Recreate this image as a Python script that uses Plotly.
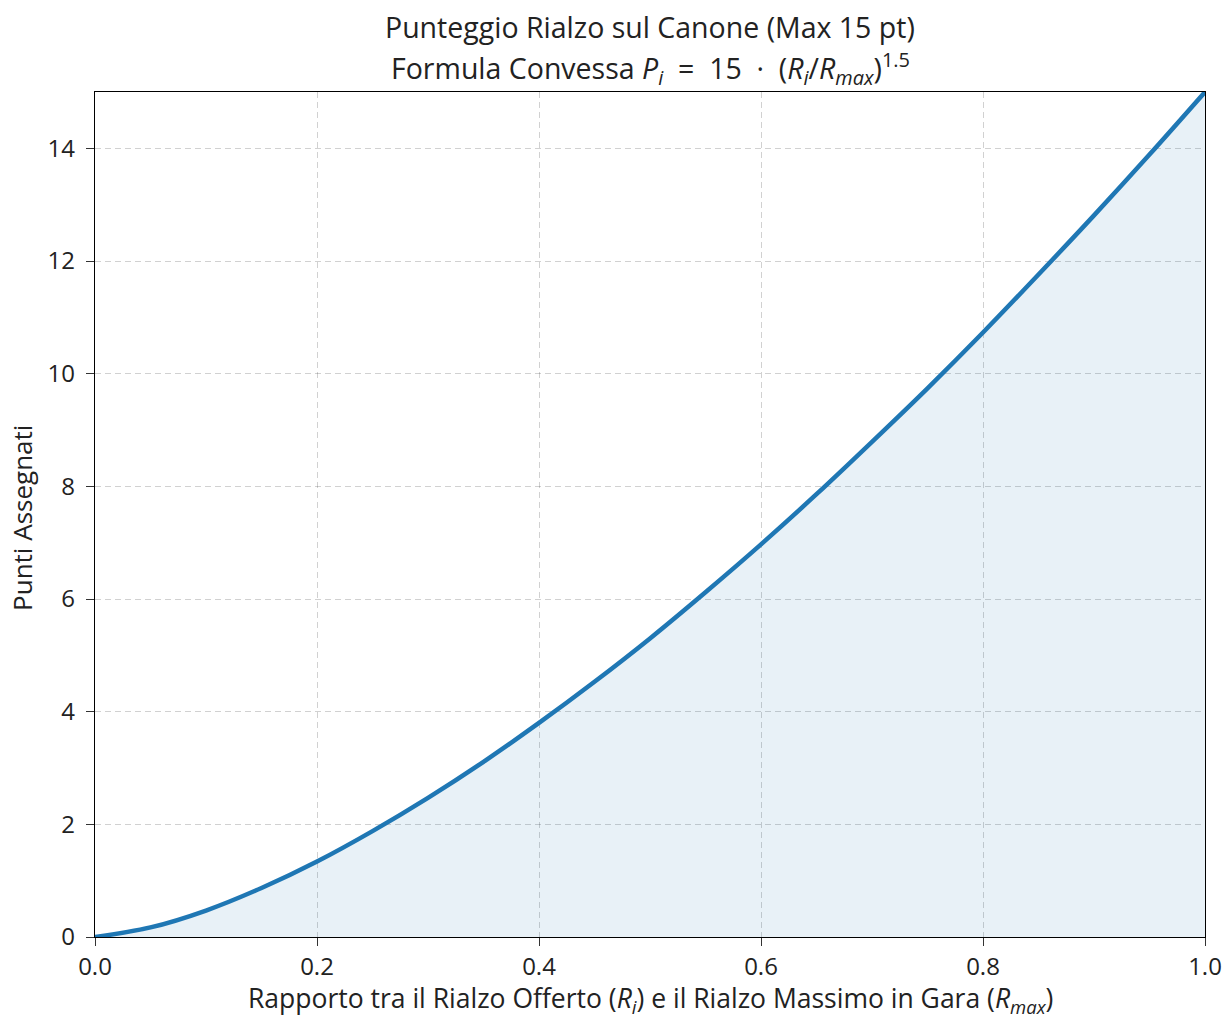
import plotly.graph_objects as go

# Values
ratio = [0.0, 0.05, 0.10, 0.15, 0.20, 0.25, 0.30, 0.35, 0.40, 0.45, 0.50,
         0.55, 0.60, 0.65, 0.70, 0.75, 0.80, 0.85, 0.90, 0.95, 1.0]
points = [0.0, 0.17, 0.47, 0.87, 1.34, 1.88, 2.47, 3.11, 3.80, 4.53, 5.30,
          6.12, 6.97, 7.86, 8.79, 9.74, 10.73, 11.76, 12.81, 13.89, 15.0]
x_ticks = [0.0, 0.2, 0.4, 0.6, 0.8, 1.0]
x_tick_labels = ["0.0", "0.2", "0.4", "0.6", "0.8", "1.0"]
y_ticks = [0, 2, 4, 6, 8, 10, 12, 14]
title_line1 = "Punteggio Rialzo sul Canone (Max 15 pt)"
title_line2 = ("Formula Convessa <i>P</i><sub><i>i</i></sub>&nbsp;&nbsp;=&nbsp;&nbsp;15&nbsp;&nbsp;·&nbsp;&nbsp;(<i>R</i><sub><i>i</i></sub>/"
               "<i>R</i><sub><i>max</i></sub>)<sup>1.5</sup>")
x_title = ("Rapporto tra il Rialzo Offerto (<i>R</i><sub><i>i</i></sub>) e il Rialzo Massimo "
           "in Gara (<i>R</i><sub><i>max</i></sub>)")
y_title = "Punti Assegnati"

FONT = "Open Sans, Roboto, DejaVu Sans, sans-serif"
TXT = "#222222"

fig = go.Figure()
fig.add_trace(go.Scatter(
    x=ratio, y=points, mode="lines",
    line=dict(color="#1f77b4", width=4.5, shape="spline"),
    fill="tozeroy", fillcolor="rgba(31,119,180,0.1)",
    showlegend=False, hoverinfo="skip",
))

axis_common = dict(
    showline=True, linecolor="black", linewidth=1.3, mirror=True,
    ticks="outside", ticklen=8, tickwidth=1.3, tickcolor="#333",
    showgrid=True, gridcolor="rgba(0,0,0,0.18)", griddash="6px,4px", gridwidth=1.2,
    zeroline=False, tickfont=dict(size=24, color=TXT, family=FONT),
    automargin=False,
)

def text_note(text, x, y, size, angle=0):
    return dict(text=text, xref="paper", yref="paper", x=x, y=y,
                xanchor="center", yanchor="middle", showarrow=False, textangle=angle,
                font=dict(size=size, family=FONT, color=TXT))

fig.update_layout(
    width=1224, height=1018,
    paper_bgcolor="white", plot_bgcolor="white",
    margin=dict(l=95, r=19, t=92, b=81),
    font=dict(family=FONT, color=TXT),
    annotations=[
        text_note(title_line1, 0.5, 1.0769, 28.5),
        text_note(title_line2, 0.5, 1.0284, 28.5),
        text_note(x_title, 0.5, -0.0735, 26.5),
        text_note(y_title, -0.0658, 0.4959, 26, angle=-90),
    ],
    xaxis=dict(
        range=[0, 1], tickvals=x_ticks, ticktext=x_tick_labels,
        ticklabelstandoff=0,
        **axis_common,
    ),
    yaxis=dict(
        range=[0, 15], tickvals=y_ticks,
        ticklabelstandoff=6,
        **axis_common,
    ),
)

fig.write_html(
    "out.html",
    config={"displayModeBar": False},
    post_script="document.body.style.margin='0';document.body.style.overflow='hidden';",
)
